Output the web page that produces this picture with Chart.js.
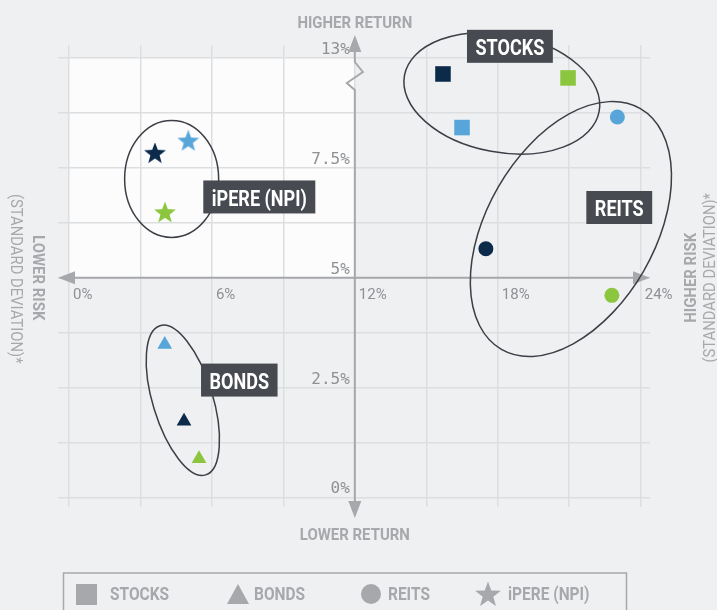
<!DOCTYPE html>
<html>
<head>
<meta charset="utf-8">
<script src="https://cdn.jsdelivr.net/npm/chart.js@4.4.1/dist/chart.umd.min.js"></script>
<style>
  html, body { margin: 0; padding: 0; background: #eff0f2; }
  canvas { display: block; }
</style>
</head>
<body>
<canvas id="grafico" width="717" height="610"></canvas>
<script>
// risk = standard deviation (%), return = position on the chart's return axis
// (the axis has a break above 7.5%, its top line is labelled 13%)
const seriesNames = ['STOCKS', 'BONDS', 'REITS', 'iPERE (NPI)'];
const pointColors = ['#0c2b4b', '#58a6d9', '#8cc63f'];

const stocksRisk = [15.7, 16.5, 20.95];
const stocksReturn = [9.64, 8.42, 9.55];
const bondsRisk = [4.83, 4.02, 5.46];
const bondsReturn = [1.73, 3.48, 0.88];
const reitsRisk = [17.5, 23.02, 22.79];
const reitsReturn = [5.66, 8.66, 4.6];
const ipereRisk = [3.61, 5.01, 4.03];
const ipereReturn = [7.8, 8.08, 6.45];

const xTicks = [0, 3, 6, 9, 12, 15, 18, 21, 24];
const xLabels = ['0%', '', '6%', '', '12%', '', '18%', '', '24%'];
const yTicks = [0, 1.25, 2.5, 3.75, 5, 6.25, 7.5, 8.75, 10];
const yLabels = ['0%', '', '2.5%', '', '5%', '', '7.5%', '', '13%'];

// group rings and name tags (centres in chart units)
const rings = [
  {x: 18.17, y: 9.2, rx: 99, ry: 59, rot: 10.5},
  {x: 4.78, y: 2.21, rx: 30, ry: 78, rot: -17},
  {x: 21.07, y: 6.11, rx: 139, ry: 84, rot: -60},
  {x: 4.31, y: 7.25, rx: 47, ry: 58.5, rot: 0}
];
const tags = [
  {x: 18.51, y: 10.27},
  {x: 7.15, y: 2.67},
  {x: 23.1, y: 6.6},
  {x: 7.99, y: 6.84}
];

const cinza = '#a6a8ab';
const escuro = '#474a51';

function pontos(xs, ys) {
  return xs.map((v, i) => ({x: v, y: ys[i]}));
}

function estrela(g, cx, cy, R, r) {
  g.beginPath();
  for (let i = 0; i < 10; i++) {
    const raio = i % 2 ? r : R;
    const a = -Math.PI / 2 + i * Math.PI / 5;
    g.lineTo(cx + raio * Math.cos(a), cy + raio * Math.sin(a));
  }
  g.closePath();
  g.fill();
}

function imagemEstrela(cor) {
  const c = document.createElement('canvas');
  c.width = 24; c.height = 24;
  const g = c.getContext('2d');
  g.fillStyle = cor;
  estrela(g, 12, 11, 11.5, 4.8);
  return c;
}

function texto(ctx, str, x, y, fonte, tam, cor, sx, rot, align) {
  ctx.save();
  ctx.translate(x, y);
  if (rot) ctx.rotate(rot);
  ctx.scale(sx, 1);
  ctx.font = fonte;
  ctx.fillStyle = cor;
  ctx.textAlign = align || 'center';
  ctx.textBaseline = 'alphabetic';
  ctx.fillText(str, 0, tam * 0.355);
  ctx.restore();
}

function seta(ctx, x, y, ang) {
  ctx.save();
  ctx.translate(x, y);
  ctx.rotate(ang);
  ctx.beginPath();
  ctx.moveTo(0, 0);
  ctx.lineTo(-17, -6.5);
  ctx.lineTo(-17, 6.5);
  ctx.closePath();
  ctx.fill();
  ctx.restore();
}

const fundo = {
  id: 'fundo',
  beforeDraw(chart) {
    const {ctx, scales: {x, y}} = chart;
    ctx.save();
    ctx.fillStyle = '#eff0f2';
    ctx.fillRect(0, 0, chart.width, chart.height);
    const l = x.getPixelForValue(0), r = x.getPixelForValue(12);
    const t = y.getPixelForValue(10), b = y.getPixelForValue(5);
    ctx.fillStyle = '#fcfcfc';
    ctx.fillRect(l, t, r - l, b - t);
    ctx.restore();
  }
};

const eixos = {
  id: 'eixos',
  beforeDatasetsDraw(chart) {
    const {ctx, chartArea: area, scales: {x, y}} = chart;
    const ax = x.getPixelForValue(12), ay = y.getPixelForValue(5);
    ctx.save();
    ctx.strokeStyle = cinza;
    ctx.fillStyle = cinza;
    ctx.lineWidth = 2;
    // horizontal axis
    ctx.beginPath();
    ctx.moveTo(area.left + 8, ay);
    ctx.lineTo(area.right - 8, ay);
    ctx.stroke();
    seta(ctx, area.left, ay, Math.PI);
    seta(ctx, area.right, ay, 0);
    // vertical axis with break
    const topo = area.top - 10, base = area.bottom + 11;
    ctx.beginPath();
    ctx.moveTo(ax, topo + 8);
    ctx.lineTo(ax, area.top + 17);
    ctx.lineTo(ax + 8, area.top + 27);
    ctx.lineTo(ax - 8, area.top + 38);
    ctx.lineTo(ax, area.top + 45);
    ctx.lineTo(ax, base - 8);
    ctx.stroke();
    seta(ctx, ax, topo, -Math.PI / 2);
    seta(ctx, ax, base, Math.PI / 2);

    // axis titles
    const bold = 'bold 17px Roboto', reg = '17px Roboto';
    texto(ctx, 'HIGHER RETURN', ax, 22, bold, 17, cinza, 0.88);
    texto(ctx, 'LOWER RETURN', ax, 534, bold, 17, cinza, 0.88);
    texto(ctx, 'LOWER RISK', 39, ay, bold, 17, cinza, 0.88, Math.PI / 2);
    texto(ctx, '(STANDARD DEVIATION)*', 17, ay + 1, reg, 17, cinza, 0.87, Math.PI / 2);
    texto(ctx, 'HIGHER RISK', 690, ay, bold, 17, cinza, 0.88, -Math.PI / 2);
    texto(ctx, '(STANDARD DEVIATION)*', 709, ay, reg, 17, cinza, 0.87, -Math.PI / 2);

    // group rings
    ctx.strokeStyle = '#3c3f46';
    ctx.lineWidth = 1.5;
    rings.forEach(a => {
      ctx.beginPath();
      ctx.ellipse(x.getPixelForValue(a.x), y.getPixelForValue(a.y), a.rx, a.ry, a.rot * Math.PI / 180, 0, Math.PI * 2);
      ctx.stroke();
    });
    ctx.restore();
  },
  afterDatasetsDraw(chart) {
    const {ctx, scales: {x, y}} = chart;
    ctx.save();
    // name tags
    tags.forEach((t, i) => {
      const nome = seriesNames[i];
      ctx.font = 'bold 22px Roboto';
      const w = ctx.measureText(nome).width * 0.82 + 17;
      const cx = x.getPixelForValue(t.x), cy = y.getPixelForValue(t.y);
      ctx.fillStyle = escuro;
      ctx.fillRect(cx - w / 2, cy - 16.5, w, 33);
      texto(ctx, nome, cx, cy + 1, 'bold 22px Roboto', 22, '#ffffff', 0.82);
    });

    // legend
    ctx.strokeStyle = cinza;
    ctx.lineWidth = 1.5;
    ctx.strokeRect(63.5, 573, 563, 60);
    ctx.fillStyle = cinza;
    ctx.fillRect(76, 584, 21, 21);
    ctx.beginPath();
    ctx.moveTo(238, 584); ctx.lineTo(249, 604); ctx.lineTo(227, 604); ctx.closePath();
    ctx.fill();
    ctx.beginPath();
    ctx.arc(371, 594, 10, 0, Math.PI * 2);
    ctx.fill();
    estrela(ctx, 488, 595, 13.5, 5.6);
    const lf = 'bold 18px Roboto';
    texto(ctx, seriesNames[0], 110, 594, lf, 18, cinza, 0.86, 0, 'left');
    texto(ctx, seriesNames[1], 254, 594, lf, 18, cinza, 0.86, 0, 'left');
    texto(ctx, seriesNames[2], 388, 594, lf, 18, cinza, 0.86, 0, 'left');
    texto(ctx, seriesNames[3], 508, 594, lf, 18, cinza, 0.86, 0, 'left');
    ctx.restore();
  }
};

const dadosGrafico = document.getElementById('grafico');

const grafico = new Chart(dadosGrafico, {
  type: 'scatter',
  data: {
    datasets: [
      {label: seriesNames[0], data: pontos(stocksRisk, stocksReturn), pointStyle: 'rect', pointRadius: 11, backgroundColor: pointColors, borderWidth: 0},
      {label: seriesNames[1], data: pontos(bondsRisk, bondsReturn), pointStyle: 'triangle', pointRadius: 8.5, backgroundColor: pointColors, borderWidth: 0},
      {label: seriesNames[2], data: pontos(reitsRisk, reitsReturn), pointStyle: 'circle', pointRadius: 7.5, backgroundColor: pointColors, borderWidth: 0},
      {label: seriesNames[3], data: pontos(ipereRisk, ipereReturn), pointStyle: pointColors.map(imagemEstrela), pointRadius: 11, backgroundColor: pointColors, borderWidth: 0}
    ]
  },
  options: {
    responsive: false,
    animation: false,
    events: [],
    layout: {padding: {left: 58, top: 45, right: 67, bottom: 103}},
    plugins: {legend: {display: false}, tooltip: {enabled: false}},
    scales: {
      x: {
        type: 'linear',
        min: -0.46,
        max: 24.39,
        position: {y: 5},
        afterBuildTicks: s => { s.ticks = xTicks.map(v => ({value: v})); },
        grid: {color: '#dcdee0', lineWidth: 1.5, drawTicks: false},
        border: {display: false},
        ticks: {
          autoSkip: false,
          maxRotation: 0,
          align: 'start',
          labelOffset: 4,
          padding: 8,
          color: '#8e9194',
          font: {family: 'Roboto', size: 15},
          callback: (v, i) => xLabels[i]
        }
      },
      y: {
        type: 'linear',
        min: -0.22,
        max: 10.3,
        // labels sit a few pixels left of the drawn axis at 12%
        position: {x: 11.79},
        afterBuildTicks: s => { s.ticks = yTicks.map(v => ({value: v})); },
        grid: {color: '#dcdee0', lineWidth: 1.5, drawTicks: false},
        border: {display: false},
        ticks: {
          autoSkip: false,
          labelOffset: -8,
          padding: 5,
          color: '#8e9194',
          font: {family: "'DejaVu Sans Mono', 'Liberation Mono', monospace", size: 16},
          callback: (v, i) => yLabels[i]
        }
      }
    }
  },
  plugins: [fundo, eixos]
});
</script>
</body>
</html>
